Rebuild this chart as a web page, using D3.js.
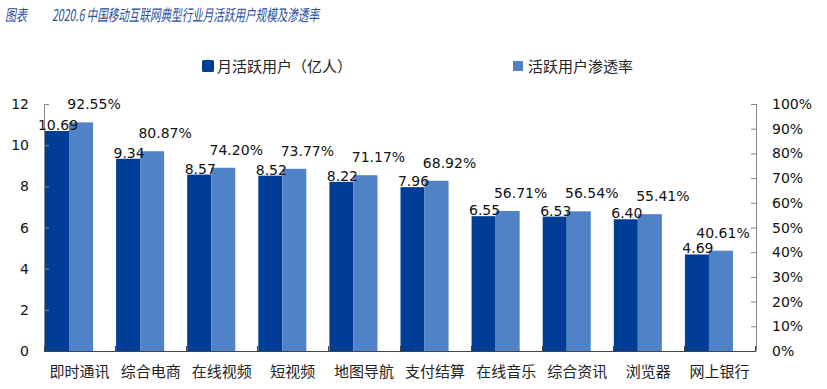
<!DOCTYPE html>
<html>
<head>
<meta charset="utf-8">
<script src="https://d3js.org/d3.v7.min.js"></script>
<style>
  body { margin: 0; background: #fff; }
  .num { font-family: "DejaVu Sans", Verdana, sans-serif; font-size: 14px; fill: #111; }
  .cjk { font-family: "Noto Sans CJK SC", sans-serif; }
</style>
</head>
<body>
<div id="chart"></div>
<script>
// 数据
const categories = ["即时通讯", "综合电商", "在线视频", "短视频", "地图导航", "支付结算", "在线音乐", "综合资讯", "浏览器", "网上银行"];
const users = [10.69, 9.34, 8.57, 8.52, 8.22, 7.96, 6.55, 6.53, 6.40, 4.69];
const rate = [92.55, 80.87, 74.20, 73.77, 71.17, 68.92, 56.71, 56.54, 55.41, 40.61];
const seriesNames = ["月活跃用户（亿人）", "活跃用户渗透率"];
const leftTicks = [0, 2, 4, 6, 8, 10, 12];
const rightTicks = [0, 10, 20, 30, 40, 50, 60, 70, 80, 90, 100];

const W = 827, H = 389;
const colors = ["#003d96", "#4f82c6"];
const titleColor = "#2a4f9c";

const svg = d3.select("#chart").append("svg")
  .attr("width", W).attr("height", H);

// 标题
svg.append("text")
  .attr("class", "cjk")
  .attr("x", 5).attr("y", 21)
  .attr("font-size", 16).attr("font-style", "italic")
  .attr("fill", titleColor)
  .attr("textLength", 22).attr("lengthAdjust", "spacingAndGlyphs")
  .text("图表");
svg.append("text")
  .attr("class", "cjk")
  .attr("x", 52).attr("y", 21)
  .attr("font-size", 16).attr("font-style", "italic")
  .attr("fill", titleColor)
  .attr("textLength", 267).attr("lengthAdjust", "spacingAndGlyphs")
  .text("2020.6 中国移动互联网典型行业月活跃用户规模及渗透率");

// 比例尺
const x = d3.scaleBand().domain(categories).range([44, 755]).padding(0);
const inner = d3.scaleBand().domain([0, 1]).range([1, x.bandwidth() * 0.69]);
const yL = d3.scaleLinear().domain([0, 12]).range([351, 104]);
const yR = d3.scaleLinear().domain([0, 100]).range([351, 104]);

// 柱子
const g = svg.append("g");
categories.forEach((c, i) => {
  g.append("rect")
    .attr("x", x(c) + inner(0)).attr("width", inner.bandwidth())
    .attr("y", yL(users[i])).attr("height", yL(0) - yL(users[i]))
    .attr("fill", colors[0]);
  g.append("rect")
    .attr("x", x(c) + inner(1)).attr("width", inner.bandwidth())
    .attr("y", yR(rate[i])).attr("height", yR(0) - yR(rate[i]))
    .attr("fill", colors[1]);
});

// 坐标轴
const axL = svg.append("g").attr("transform", "translate(44,0)")
  .call(d3.axisRight(yL).tickValues(leftTicks).tickSize(5).tickFormat(""));
axL.select(".domain").remove();
axL.selectAll("line").attr("stroke", "#888");
svg.append("line").attr("x1", 44.5).attr("x2", 44.5).attr("y1", 104).attr("y2", 351)
  .attr("stroke", "#888");
leftTicks.forEach(t => {
  svg.append("text").attr("class", "num")
    .attr("x", 29).attr("y", yL(t) + 5).attr("text-anchor", "end")
    .text(t);
});

const axR = svg.append("g").attr("transform", "translate(756,0)")
  .call(d3.axisLeft(yR).tickValues(rightTicks).tickSize(5).tickFormat(""));
axR.select(".domain").remove();
axR.selectAll("line").attr("stroke", "#888");
svg.append("line").attr("x1", 756.5).attr("x2", 756.5).attr("y1", 104).attr("y2", 351)
  .attr("stroke", "#888");
rightTicks.forEach(t => {
  svg.append("text").attr("class", "num")
    .attr("x", 772).attr("y", yR(t) + 5)
    .text(t + "%");
});

const axB = svg.append("g").attr("transform", "translate(0,351)")
  .call(d3.axisTop(x).tickSize(0).tickFormat(""));
axB.select(".domain").attr("stroke", "#444").attr("d", "M44,0.5H756");
d3.range(categories.length + 1).forEach(k => {
  const xx = Math.round(44 + k * x.bandwidth()) + 0.5;
  svg.append("line").attr("x1", xx).attr("x2", xx).attr("y1", 346).attr("y2", 351)
    .attr("stroke", "#444");
});
categories.forEach(c => {
  svg.append("text").attr("class", "cjk")
    .attr("x", x(c) + x.bandwidth() / 2).attr("y", 377)
    .attr("text-anchor", "middle").attr("font-size", 15).attr("fill", "#222")
    .text(c);
});

// 数据标签
categories.forEach((c, i) => {
  svg.append("text").attr("class", "num")
    .attr("x", x(c) + inner(0) + inner.bandwidth() / 2 + 1)
    .attr("y", yL(users[i]) - 1)
    .attr("text-anchor", "middle")
    .text(users[i].toFixed(2));
  // 渗透率标签：放在柱子右上方，但不越过右轴
  const cx = Math.min(x(c) + inner(1) + inner.bandwidth() / 2 + 13, 723);
  svg.append("text").attr("class", "num")
    .attr("x", cx)
    .attr("y", yR(rate[i]) - 13)
    .attr("text-anchor", "middle")
    .text(rate[i].toFixed(2) + "%");
});

// 图例
const legX = [202, 513];
seriesNames.forEach((s, i) => {
  svg.append("rect")
    .attr("x", legX[i]).attr("y", i === 0 ? 60 : 61)
    .attr("width", i === 0 ? 12 : 10).attr("height", i === 0 ? 12 : 10)
    .attr("rx", i === 0 ? 1.5 : 0)
    .attr("fill", colors[i]);
  svg.append("text").attr("class", "cjk")
    .attr("x", legX[i] + 15).attr("y", 72)
    .attr("font-size", 15).attr("fill", "#222")
    .text(s);
});
</script>
</body>
</html>
